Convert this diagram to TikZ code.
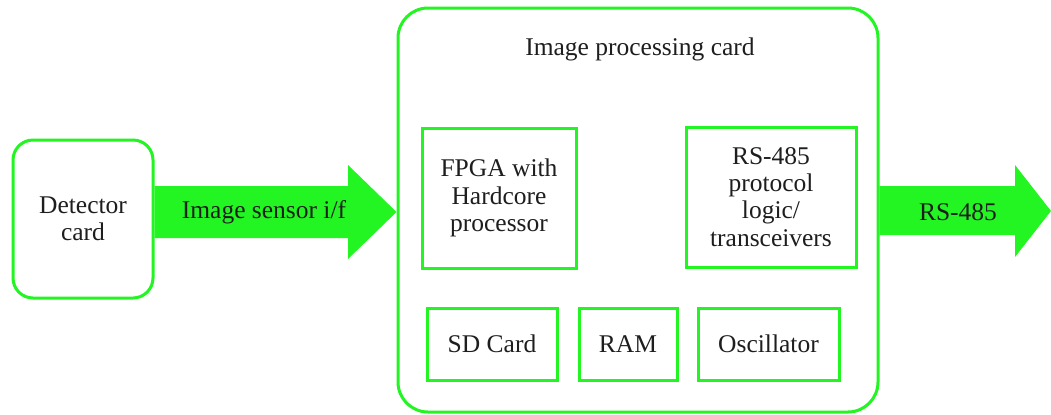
\documentclass[tikz,border=0pt]{standalone}
\usepackage{fontspec}
\setmainfont{Liberation Serif}
\newfontfamily\cardfont{Liberation Serif}
\usepackage{xcolor}
\usepackage{tikz}
\definecolor{cardgreen}{RGB}{34,245,34}
\definecolor{inkgray}{RGB}{30,30,30}
\tikzset{
    card/.style={draw=cardgreen, line width=1.5pt, fill=white, align=center,
                 text=inkgray, inner sep=2pt},
    part/.style={card, rounded corners=0pt},
    flow/.style={fill=cardgreen}
}

\begin{document}
\begin{tikzpicture}[x=0.5pt, y=-0.5pt,
                    font=\cardfont\fontsize{12.75}{13.6}\selectfont]
                  \useasboundingbox (0,0) rectangle (1051,414);

                  \node[card, rounded corners=10pt, minimum width=70pt, minimum height=79pt]
                      (det) at (83,219) {Detector\\card};
                  \node[card, rounded corners=15pt, minimum width=240pt, minimum height=202pt]
                      (ipc) at (638,210) {};
                  \node[text=inkgray] (ipctitle) at (640,49) {Image processing card};

                  \node[part, minimum width=77pt, minimum height=70pt] (fpga) at (499,198)
                      {FPGA with\\Hardcore\\processor};
                  \node[part, minimum width=85pt, minimum height=70pt] (rs) at (771,197)
                      {RS-485\\protocol\\logic/\\transceivers};

                  \node[part, minimum width=65pt, minimum height=36pt] (sd) at (492,344) {SD Card};
                  \node[part, minimum width=49pt, minimum height=36pt] (ram) at (628,344) {RAM};
                  \node[part, minimum width=70.5pt, minimum height=36pt] (osc) at (768.5,344) {Oscillator};

                  % block arrows
                  \fill[flow] (det.east |- 0,186) -- (348,186) -- (348,165) -- (ipc.west |- 0,212)
                      -- (348,259) -- (348,238) -- (det.east |- 0,238) -- cycle;
                  \node[text=inkgray] (sensorif) at (264,212) {Image sensor i/f};

                  \fill[flow] (ipc.east |- 0,186) -- (1015,186) -- (1015,165) -- (1051,211)
                      -- (1015,257) -- (1015,235) -- (ipc.east |- 0,235) -- cycle;
                  \node[text=inkgray] (rsout) at (958,212) {RS-485};
              \end{tikzpicture}
\end{document}
